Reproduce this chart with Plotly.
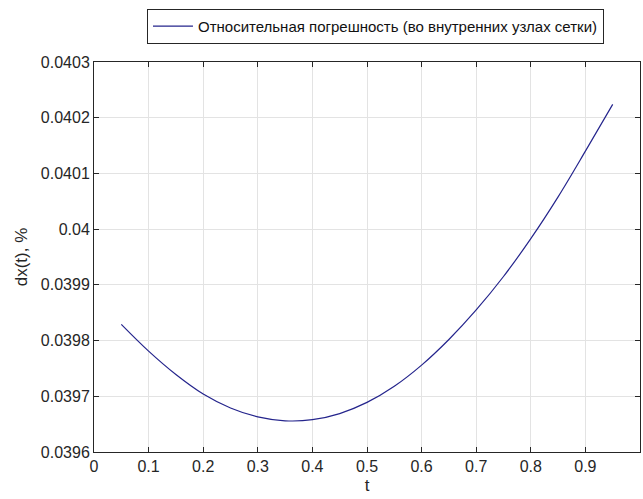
import plotly.graph_objects as go

# Relative error at interior grid nodes
t = [0.05, 0.10, 0.15, 0.20, 0.25, 0.30, 0.35, 0.40, 0.45, 0.50,
     0.55, 0.60, 0.65, 0.70, 0.75, 0.80, 0.85, 0.90, 0.95]
dx = [0.039829, 0.039781, 0.039739, 0.039704, 0.039679, 0.039663, 0.039656,
      0.039658, 0.039669, 0.039689, 0.039718, 0.039756, 0.039802, 0.039855,
      0.039915, 0.039983, 0.040058, 0.040140, 0.040224]

x_ticks = [0, 0.1, 0.2, 0.3, 0.4, 0.5, 0.6, 0.7, 0.8, 0.9, 1]
x_tick_labels = ["0", "0.1", "0.2", "0.3", "0.4", "0.5", "0.6", "0.7", "0.8", "0.9", "1"]
y_ticks = [0.0396, 0.0397, 0.0398, 0.0399, 0.0400, 0.0401, 0.0402, 0.0403]
y_tick_labels = ["0.0396", "0.0397", "0.0398", "0.0399", "0.04", "0.0401", "0.0402", "0.0403"]

FONT = "Liberation Sans, Arial, sans-serif"
AXIS = "#262626"
GRID = "#e3e3e3"

fig = go.Figure()
fig.add_trace(go.Scatter(
    x=t, y=dx, mode="lines", line_shape="spline",
    line=dict(color="#24248c", width=1.2),
    name="Относительная погрешность (во внутренних узлах сетки)",
))

axis_common = dict(
    showline=True, linecolor=AXIS, linewidth=1, mirror="allticks",
    ticks="inside", ticklen=5, tickcolor=AXIS,
    showgrid=True, gridcolor=GRID, gridwidth=1, zeroline=False,
    tickfont=dict(family=FONT, size=16, color="#262626"),
)

fig.update_layout(
    width=643, height=499,
    margin=dict(l=94, r=3, t=62, b=47),
    paper_bgcolor="white", plot_bgcolor="white",
    font=dict(family=FONT, size=16, color="#262626"),
    showlegend=True,
    legend=dict(
        x=0.934, y=1.136, xanchor="right", yanchor="top",
        bordercolor=AXIS, borderwidth=1, bgcolor="white",
        font=dict(family=FONT, size=15, color="#111111"),
        itemwidth=40,
    ),
    xaxis=dict(
        range=[0, 1], tickvals=x_ticks, ticktext=x_tick_labels,
        title=dict(text="t", standoff=4, font=dict(family=FONT, size=17)),
        **axis_common,
    ),
    yaxis=dict(
        range=[0.0396, 0.0403], tickvals=y_ticks, ticktext=y_tick_labels,
        title=dict(text="dx(t), %", standoff=8, font=dict(family=FONT, size=17)),
        **axis_common,
    ),
)

fig.write_html("out.html")
